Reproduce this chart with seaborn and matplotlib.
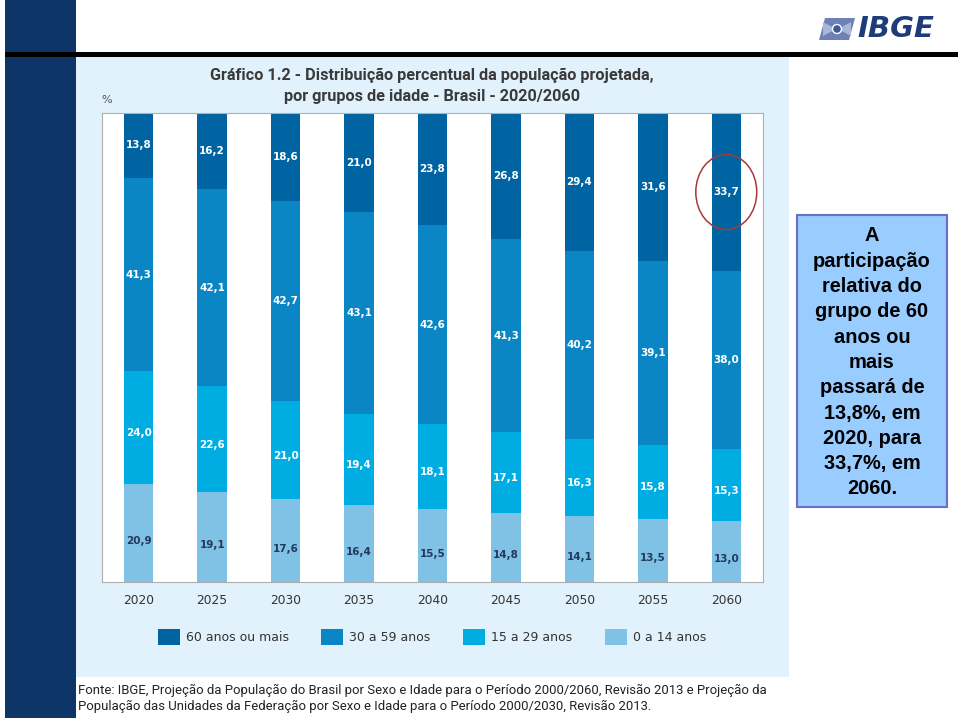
import numpy as np
import pandas as pd
import matplotlib
matplotlib.use("Agg")
import matplotlib.pyplot as plt
import seaborn as sns
from matplotlib.patches import Rectangle, Ellipse, Patch, Polygon

# ---------------- data ----------------
years = ["2020", "2025", "2030", "2035", "2040", "2045", "2050", "2055", "2060"]
groups = ["60 anos ou mais", "30 a 59 anos", "15 a 29 anos", "0 a 14 anos"]
v60 = [13.8, 16.2, 18.6, 21.0, 23.8, 26.8, 29.4, 31.6, 33.7]
v30 = [41.3, 42.1, 42.7, 43.1, 42.6, 41.3, 40.2, 39.1, 38.0]
v15 = [24.0, 22.6, 21.0, 19.4, 18.1, 17.1, 16.3, 15.8, 15.3]
v0 = [20.9, 19.1, 17.6, 16.4, 15.5, 14.8, 14.1, 13.5, 13.0]

title_lines = ["Gráfico 1.2 - Distribuição percentual da população projetada,",
               "por grupos de idade - Brasil - 2020/2060"]
footer_lines = ["Fonte: IBGE, Projeção da População do Brasil por Sexo e Idade para o Período 2000/2060, Revisão 2013 e Projeção da",
                "População das Unidades da Federação por Sexo e Idade para o Período 2000/2030, Revisão 2013."]
box_lines = ["A", "participação", "relativa do", "grupo de 60", "anos ou", "mais",
             "passará de", "13,8%, em", "2020, para", "33,7%, em", "2060."]

# ---------------- style ----------------
colors = ["#0064A2", "#0A86C5", "#00ADE2", "#80C2E6"]
label_colors = ["white", "white", "white", "#23395B"]
label_offsets = [0.0, 0.0, -1.2, -1.7]

sns.set_theme(style="white")
plt.rcParams["font.family"] = ["DejaVu Sans"]

W, H = 959, 718
fig = plt.figure(figsize=(W / 100, H / 100), dpi=100)
fig.patch.set_facecolor("white")


def fx(x):
    return x / W


def fy(y):
    return 1 - y / H


def rect(x0, y0, x1, y1, **kw):
    r = Rectangle((fx(x0), fy(y1)), fx(x1) - fx(x0), fy(y0) - fy(y1),
                  transform=fig.transFigure, **kw)
    fig.add_artist(r)
    return r


# slide decoration
rect(5, 0, 76, 718, facecolor="#0D3567", edgecolor="none", zorder=1)
rect(76, 57, 789, 677, facecolor="#E1F2FC", edgecolor="none", zorder=1)
rect(5, 52, 958, 56.5, facecolor="black", edgecolor="none", zorder=2)

# IBGE logo
icon = Polygon([(fx(819), fy(40)), (fx(825), fy(18)), (fx(855), fy(18)), (fx(849), fy(40))],
               closed=True, transform=fig.transFigure, facecolor="#6E81B6",
               edgecolor="none", zorder=3)
fig.add_artist(icon)
fig.add_artist(Polygon([(fx(823), fy(36)), (fx(836), fy(29)), (fx(823), fy(22))],
                       closed=True, transform=fig.transFigure, facecolor="#A9B6D8",
                       edgecolor="none", zorder=4))
fig.add_artist(Polygon([(fx(851), fy(36)), (fx(838), fy(29)), (fx(851), fy(22))],
                       closed=True, transform=fig.transFigure, facecolor="#A9B6D8",
                       edgecolor="none", zorder=4))
fig.add_artist(Ellipse((fx(837), fy(29)), 9 / W, 9 / H, transform=fig.transFigure,
                       facecolor="#3F5A9A", edgecolor="white", linewidth=1.0, zorder=5))
fig.text(fx(896), fy(29), "IBGE", fontsize=21, fontweight="bold", style="italic",
         color="#1F3C7A", ha="center", va="center", zorder=5)

# ---------------- chart ----------------
ax = fig.add_axes([fx(102), fy(582), fx(763) - fx(102), fy(113) - fy(582)])
ax.set_facecolor("white")
ax.set_zorder(3)

df = pd.DataFrame({"ano": years, "g60": v60, "g30": v30, "g15": v15, "g0": v0})
df["c0"] = df["g0"]
df["c15"] = df["c0"] + df["g15"]
df["c30"] = df["c15"] + df["g30"]
df["c60"] = df["c30"] + df["g60"]

for col, c in zip(["c60", "c30", "c15", "c0"], colors):
    sns.barplot(data=df, x="ano", y=col, color=c, saturation=1, width=0.4,
                errorbar=None, linewidth=0, ax=ax, order=years)

bottoms = {"g0": [0] * len(years), "g15": list(df["c0"]),
           "g30": list(df["c15"]), "g60": list(df["c30"])}
for col, lc, off in zip(["g60", "g30", "g15", "g0"], label_colors, label_offsets):
    for i, v in enumerate(df[col]):
        yc = bottoms[col][i] + v / 2 + off
        ax.text(i, yc, f"{v:.1f}".replace(".", ","), ha="center", va="center",
                fontsize=7.5, fontweight="bold", color=lc)

ax.set_xlim(-0.5, 8.5)
ax.set_ylim(0, 100)
ax.set_xlabel("")
ax.set_ylabel("")
ax.set_yticks([])
ax.tick_params(axis="x", length=0, pad=9, labelsize=8.8, labelcolor="#333333")
for s in ax.spines.values():
    s.set_visible(True)
    s.set_color("#AFAFAF")
    s.set_linewidth(0.8)

# highlight circle around last 60+ value
ax.add_patch(Ellipse((8, df["c30"].iloc[-1] + v60[-1] / 2), 0.83, 16.0,
                     facecolor="none", edgecolor="#A83838", linewidth=1.1,
                     clip_on=False, zorder=6))

# legend
handles = [Patch(facecolor=c, edgecolor="none", label=g) for c, g in zip(colors, groups)]
fig.legend(handles=handles, loc="center", bbox_to_anchor=(fx(432), fy(637)),
           bbox_transform=fig.transFigure, ncol=4, frameon=False, fontsize=9,
           handlelength=1.76, handleheight=1.6, handletextpad=0.48,
           columnspacing=2.6, labelcolor="#333333")

# titles
for k, line in enumerate(title_lines):
    fig.text(fx(432), fy(75 + 21 * k), line, ha="center", va="center", fontsize=11.7,
             fontweight="bold", family=["Roboto", "DejaVu Sans"], color="#3A3A3A", zorder=5)
fig.text(fx(101), fy(100), "%", ha="left", va="center", fontsize=8, color="#555555", zorder=5)

# footer
for k, line in enumerate(footer_lines):
    fig.text(fx(78), fy(690 + 16 * k), line, ha="left", va="center", fontsize=9.45,
             family=["Roboto", "DejaVu Sans"], color="#222222")

# side text box
rect(797, 215, 947, 507, facecolor="#99CCFF", edgecolor="#6A6FC8", linewidth=1.5, zorder=3)
for k, line in enumerate(box_lines):
    fig.text(fx(872), fy(236 + k * 25.3), line, ha="center", va="center", fontsize=14.4,
             fontweight="bold", family=["Liberation Sans", "DejaVu Sans"], color="black",
             zorder=5)

fig.savefig("out.png", dpi=100, facecolor=fig.get_facecolor())
